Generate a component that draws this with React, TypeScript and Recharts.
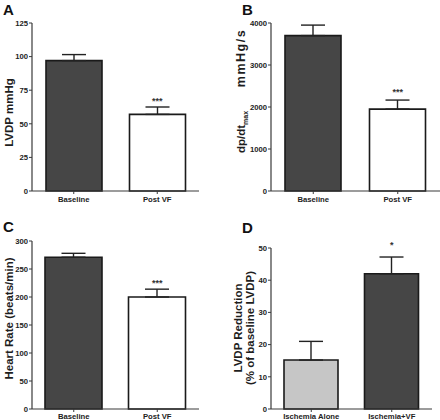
import React from 'react';
import { ComposedChart, Bar, Cell, XAxis, YAxis, ErrorBar, Line, LabelList } from 'recharts';

// Panel A
const catsA = ['Baseline', 'Post VF'];
const lvdpMean = [97, 57];
const lvdpErr = [4.5, 5.5];
const sigA = ['', '***'];
const ticksA = [0, 25, 50, 75, 100, 125];

// Panel B
const catsB = ['Baseline', 'Post VF'];
const dpdtMean = [3700, 1950];
const dpdtErr = [250, 215];
const sigB = ['', '***'];
const ticksB = [0, 1000, 2000, 3000, 4000];

// Panel C
const catsC = ['Baseline', 'Post VF'];
const hrMean = [271, 200];
const hrErr = [7, 14];
const sigC = ['', '***'];
const ticksC = [0, 50, 100, 150, 200, 250, 300];

// Panel D
const catsD = ['Ischemia Alone', 'Ischemia+VF'];
const redMean = [15.2, 42];
const redErr = [5.8, 5.2];
const sigD = ['', '*'];
const ticksD = [0, 10, 20, 30, 40, 50];

const DARK = '#464646';
const LIGHT = '#c6c6c6';
const WHITE = '#ffffff';

const build = (cats: string[], mean: number[], err: number[], sig: string[]) =>
  cats.map((c, i) => ({ cat: c, v: mean[i], e: [0, err[i]], top: mean[i] + err[i], sig: sig[i] }));

const tickStyle = { fontSize: 7.7, fontWeight: 700, fill: '#222' };
const axisStroke = '#3a3a3a';

type PanelProps = {
  data: any[];
  fills: string[];
  ticks: number[];
  left: number;
  top: number;
  width: number;
  height: number;
  margin: { top: number; right: number; left: number; bottom: number };
  yWidth: number;
  xHeight: number;
  xTickMargin: number;
  barSize: number;
  starOffset: number;
};

function Panel(p: PanelProps) {
  return (
    <div style={{ position: 'absolute', left: p.left, top: p.top }}>
      <ComposedChart width={p.width} height={p.height} data={p.data} margin={p.margin}>
        <XAxis
          dataKey="cat"
          type="category"
          height={p.xHeight}
          interval={0}
          tickSize={3}
          tickMargin={p.xTickMargin}
          tick={tickStyle}
          axisLine={{ stroke: axisStroke, strokeWidth: 1.2 }}
          tickLine={{ stroke: axisStroke }}
        />
        <YAxis
          type="number"
          domain={[p.ticks[0], p.ticks[p.ticks.length - 1]]}
          ticks={p.ticks}
          width={p.yWidth}
          tickSize={3}
          tickMargin={1}
          tick={tickStyle}
          axisLine={{ stroke: axisStroke, strokeWidth: 1.2 }}
          tickLine={{ stroke: axisStroke }}
        />
        <Bar dataKey="v" barSize={p.barSize} stroke="#1a1a1a" strokeWidth={1.6} isAnimationActive={false}>
          {p.data.map((d, i) => (
            <Cell key={i} fill={p.fills[i]} />
          ))}
          <ErrorBar dataKey="e" direction="y" width={12} stroke="#222" strokeWidth={1.4} isAnimationActive={false} />
        </Bar>
        <Line dataKey="top" stroke="none" dot={false} activeDot={false} isAnimationActive={false}>
          <LabelList
            dataKey="sig"
            position="top"
            offset={p.starOffset}
            fill="#333"
            fontSize={9}
            fontWeight={700}
          />
        </Line>
      </ComposedChart>
    </div>
  );
}

const labelStyle: React.CSSProperties = { fontSize: 11.5, fontWeight: 700, fill: '#1e1e1e' } as any;

export default function App() {
  return (
    <div
      style={{
        position: 'absolute',
        left: 0,
        top: 0,
        width: 440,
        height: 420,
        overflow: 'hidden',
        background: '#fff',
        fontFamily: '"Liberation Sans", Arial, sans-serif',
      }}
    >
      <Panel
        data={build(catsA, lvdpMean, lvdpErr, sigA)}
        fills={[DARK, WHITE]}
        ticks={ticksA}
        left={0}
        top={0}
        width={220}
        height={220}
        margin={{ top: 23, right: 21, left: 0, bottom: 0 }}
        yWidth={32}
        xHeight={29}
        xTickMargin={2.5}
        barSize={56}
        starOffset={3}
      />
      <Panel
        data={build(catsB, dpdtMean, dpdtErr, sigB)}
        fills={[DARK, WHITE]}
        ticks={ticksB}
        left={220}
        top={0}
        width={220}
        height={220}
        margin={{ top: 23, right: 0, left: 0, bottom: 0 }}
        yWidth={51}
        xHeight={29}
        xTickMargin={2.5}
        barSize={56}
        starOffset={5}
      />
      <Panel
        data={build(catsC, hrMean, hrErr, sigC)}
        fills={[DARK, WHITE]}
        ticks={ticksC}
        left={0}
        top={210}
        width={220}
        height={210}
        margin={{ top: 31, right: 21, left: 0, bottom: 0 }}
        yWidth={32}
        xHeight={11}
        xTickMargin={1.2}
        barSize={57}
        starOffset={3}
      />
      <Panel
        data={build(catsD, redMean, redErr, sigD)}
        fills={[LIGHT, DARK]}
        ticks={ticksD}
        left={220}
        top={210}
        width={220}
        height={210}
        margin={{ top: 38, right: 8, left: 0, bottom: 0 }}
        yWidth={51}
        xHeight={11}
        xTickMargin={1.2}
        barSize={54}
        starOffset={9}
      />
      <svg
        width={440}
        height={420}
        style={{ position: 'absolute', left: 0, top: 0, pointerEvents: 'none' }}
      >
        <g style={{ fontWeight: 700, fill: '#111' }} fontSize={15}>
          <text x={3} y={15}>A</text>
          <text x={242} y={15}>B</text>
          <text x={3} y={232}>C</text>
          <text x={242} y={233}>D</text>
        </g>
        <g style={labelStyle}>
          <text transform="translate(12.5,112.5) rotate(-90)" textAnchor="middle">LVDP mmHg</text>
          <text transform="translate(12.5,318.5) rotate(-90)" textAnchor="middle">Heart Rate (beats/min)</text>
          <text transform="translate(245,153) rotate(-90)" textAnchor="start">
            <tspan>dp/dt</tspan>
            <tspan fontSize={7} dy={2.5}>max</tspan>
          </text>
          <text
            transform="translate(245,58) rotate(-90)"
            textAnchor="middle"
            fontSize={12.5}
            letterSpacing={1.5}
          >
            mmHg/s
          </text>
          <text transform="translate(242,328) rotate(-90)" textAnchor="middle">LVDP Reduction</text>
          <text transform="translate(254,328) rotate(-90)" textAnchor="middle">(% of baseline LVDP)</text>
        </g>
      </svg>
    </div>
  );
}
